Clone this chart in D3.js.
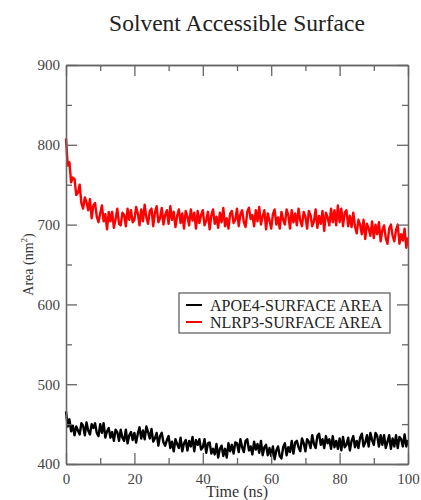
<!DOCTYPE html>
<html>
<head>
<meta charset="utf-8">
<script src="https://cdn.jsdelivr.net/npm/d3@7"></script>
<style>
	body { margin: 0; background: #fff; }
</style>
</head>
<body>
<div id="chart"></div>
<script>

///////////////////////////////////////////////////////////////////////////
///////////////////////////////// Data ////////////////////////////////////
///////////////////////////////////////////////////////////////////////////

var seriesNames = ["APOE4-SURFACE AREA", "NLRP3-SURFACE AREA"];
var seriesColors = ["#000000", "#ff0000"];
var timeStep = 0.5; //ns between samples

//APOE4 area (nm^2), one value every 0.5 ns from 0 to 100
var apoe4Area = [
	466,447,456,441,448,436,447,442,437,451,448,436,452,442,437,450,445,451,439,435,
	450,439,451,433,441,445,433,440,429,443,440,429,443,433,429,443,426,436,440,430,
	439,427,438,446,432,442,431,447,440,432,444,428,432,439,423,435,439,427,423,430,
	435,420,428,416,431,425,420,433,416,426,430,417,429,422,434,416,430,424,431,418,
	421,431,414,426,427,413,419,412,425,408,419,423,410,419,408,426,416,424,413,427,
	426,415,431,421,415,429,431,417,422,412,428,418,425,414,429,411,421,424,411,420,
	410,422,406,417,422,410,407,421,426,411,421,415,429,413,427,429,421,416,432,426,
	416,431,428,420,436,425,420,435,438,424,431,420,435,426,431,419,435,421,429,419,
	432,417,434,421,424,433,417,429,435,421,429,420,433,438,422,427,436,422,439,430,
	424,439,435,422,436,424,436,420,428,436,419,432,422,436,420,434,431,422,437,422,
	430
];

//NLRP3 area (nm^2), one value every 0.5 ns from 0 to 100
var nlrp3Area = [
	808,774,778,753,759,757,737,740,750,727,720,734,728,718,732,708,724,727,710,703,
	714,724,704,713,694,716,704,716,696,707,720,701,699,715,712,698,720,706,718,703,
	706,722,714,699,719,704,725,709,701,717,720,698,715,723,703,708,721,700,712,718,
	701,723,706,716,697,711,719,702,714,695,717,710,699,719,705,715,695,717,702,712,
	718,699,705,716,694,712,719,701,710,696,715,703,721,698,708,695,714,717,702,706,
	720,698,713,718,703,697,716,721,707,712,698,718,704,722,700,710,718,694,714,705,
	695,713,719,700,709,695,716,706,700,719,712,695,718,703,714,699,720,705,698,716,
	710,695,717,712,698,704,719,696,711,701,717,692,715,709,699,720,703,718,699,724,
	703,720,698,715,718,698,711,697,715,698,689,706,700,688,706,682,701,695,686,704,
	683,700,688,703,679,693,699,683,676,695,700,686,679,693,700,676,688,680,695,671,
	684
];

var seriesValues = [apoe4Area, nlrp3Area];

var xDomain = [0, 100],
	yDomain = [400, 900];
var xMajorTicks = [0, 20, 40, 60, 80, 100],
	xMinorTicks = [10, 30, 50, 70, 90];
var yMajorTicks = [400, 500, 600, 700, 800, 900],
	yMinorTicks = [450, 550, 650, 750, 850];

var titleText = "Solvent Accessible Surface",
	xLabel = "Time (ns)";

///////////////////////////////////////////////////////////////////////////
//////////////////// Set up and initiate svg containers ///////////////////
///////////////////////////////////////////////////////////////////////////

var margin = { top: 65, right: 13, bottom: 36, left: 66 };
var width = 421 - margin.left - margin.right;
var height = 500 - margin.top - margin.bottom;

var serif = "'Liberation Serif', 'Times New Roman', Times, serif";

var svgRoot = d3.select("#chart").append("svg")
	.attr("width", 421)
	.attr("height", 500)
	.attr("font-family", serif);

var svg = svgRoot.append("g")
	.attr("transform", "translate(" + margin.left + "," + margin.top + ")");

var x = d3.scaleLinear().domain(xDomain).range([0, width]);
var y = d3.scaleLinear().domain(yDomain).range([height, 0]);

var axisColor = "#666";

///////////////////////////////////////////////////////////////////////////
/////////////////////////////// Draw lines ////////////////////////////////
///////////////////////////////////////////////////////////////////////////

var line = d3.line()
	.x(function(d, i) { return x(i * timeStep); })
	.y(function(d) { return y(d); });

svg.selectAll(".series")
	.data(seriesValues)
	.enter().append("path")
	.attr("class", "series")
	.attr("fill", "none")
	.attr("stroke", function(d, i) { return seriesColors[i]; })
	.attr("stroke-width", 2.4)
	.attr("stroke-linejoin", "round")
	.attr("d", line);

///////////////////////////////////////////////////////////////////////////
//////////////////////////////// Axes /////////////////////////////////////
///////////////////////////////////////////////////////////////////////////

function styleAxis(g) {
	g.attr("font-family", serif).attr("font-size", 15);
	g.select(".domain").attr("stroke", axisColor).attr("stroke-width", 1.3);
	g.selectAll(".tick line").attr("stroke", axisColor).attr("stroke-width", 1.3);
	g.selectAll(".tick text").attr("fill", "#444");
}

//major ticks point inwards
svg.append("g")
	.attr("transform", "translate(0," + height + ")")
	.call(d3.axisBottom(x).tickValues(xMajorTicks).tickSizeInner(-11).tickSizeOuter(0).tickPadding(9))
	.call(styleAxis);
svg.append("g")
	.call(d3.axisTop(x).tickValues(xMajorTicks).tickSizeInner(-11).tickSizeOuter(0).tickFormat(""))
	.call(styleAxis);
svg.append("g")
	.call(d3.axisLeft(y).tickValues(yMajorTicks).tickSizeInner(-11).tickSizeOuter(0).tickPadding(6))
	.call(styleAxis);
svg.append("g")
	.attr("transform", "translate(" + width + ",0)")
	.call(d3.axisRight(y).tickValues(yMajorTicks).tickSizeInner(-11).tickSizeOuter(0).tickFormat(""))
	.call(styleAxis);

//minor ticks
svg.append("g")
	.attr("transform", "translate(0," + height + ")")
	.call(d3.axisBottom(x).tickValues(xMinorTicks).tickSizeInner(-6).tickSizeOuter(0).tickFormat(""))
	.call(styleAxis);
svg.append("g")
	.call(d3.axisTop(x).tickValues(xMinorTicks).tickSizeInner(-6).tickSizeOuter(0).tickFormat(""))
	.call(styleAxis);
svg.append("g")
	.call(d3.axisLeft(y).tickValues(yMinorTicks).tickSizeInner(-6).tickSizeOuter(0).tickFormat(""))
	.call(styleAxis);
svg.append("g")
	.attr("transform", "translate(" + width + ",0)")
	.call(d3.axisRight(y).tickValues(yMinorTicks).tickSizeInner(-6).tickSizeOuter(0).tickFormat(""))
	.call(styleAxis);

///////////////////////////////////////////////////////////////////////////
//////////////////////////////// Labels ///////////////////////////////////
///////////////////////////////////////////////////////////////////////////

svgRoot.append("text")
	.attr("x", margin.left + width / 2)
	.attr("y", 31)
	.attr("text-anchor", "middle")
	.attr("fill", "#222")
	.attr("font-size", 23.5)
	.text(titleText);

svgRoot.append("text")
	.attr("x", margin.left + width / 2)
	.attr("y", 497)
	.attr("text-anchor", "middle")
	.attr("fill", "#333")
	.attr("font-size", 16)
	.text(xLabel);

var yLab = svgRoot.append("text")
	.attr("transform", "translate(33," + (margin.top + height / 2) + ") rotate(-90)")
	.attr("text-anchor", "middle")
	.attr("fill", "#333")
	.attr("font-size", 14);
yLab.append("tspan").text("Area (nm");
yLab.append("tspan").attr("dy", -6).attr("font-size", 9).text("2");
yLab.append("tspan").attr("dy", 6).text(")");

///////////////////////////////////////////////////////////////////////////
//////////////////////////////// Legend ///////////////////////////////////
///////////////////////////////////////////////////////////////////////////

var legend = svg.append("g")
	.attr("transform", "translate(" + (179 - margin.left) + "," + (293 - margin.top) + ")");

legend.append("rect")
	.attr("width", 211)
	.attr("height", 40)
	.attr("fill", "#fff")
	.attr("stroke", "#555")
	.attr("stroke-width", 1.2);

var legendRow = legend.selectAll(".legendRow")
	.data(seriesNames)
	.enter().append("g")
	.attr("class", "legendRow")
	.attr("transform", function(d, i) { return "translate(0," + (12 + i * 17) + ")"; });

legendRow.append("line")
	.attr("x1", 7).attr("x2", 23)
	.attr("stroke", function(d, i) { return seriesColors[i]; })
	.attr("stroke-width", 2);

legendRow.append("text")
	.attr("x", 31)
	.attr("dy", "0.35em")
	.attr("fill", "#222")
	.attr("font-size", 16)
	.text(function(d) { return d; });

</script>
</body>
</html>
